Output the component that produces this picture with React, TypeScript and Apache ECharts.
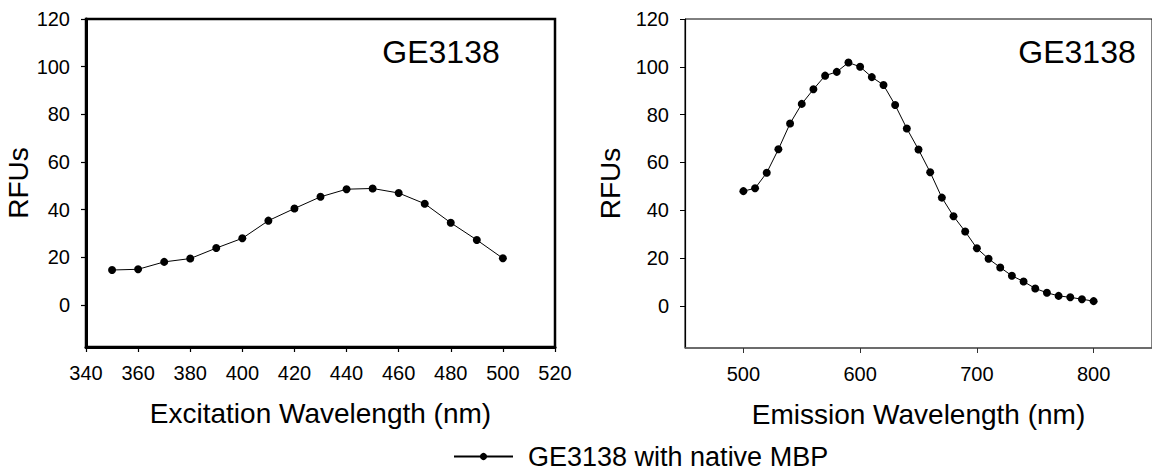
import React, { useEffect, useRef } from "react";
import * as echarts from "echarts";

const SERIES_NAME = "GE3138 with native MBP";
const PANEL_LABEL = "GE3138";

const excitationNm = [350, 360, 370, 380, 390, 400, 410, 420, 430, 440, 450, 460, 470, 480, 490, 500];
const excitationRfu = [14.7, 15.0, 18.1, 19.5, 23.9, 28.0, 35.4, 40.5, 45.4, 48.6, 48.9, 47.0, 42.5, 34.5, 27.3, 19.6];

const emissionNm = [
  500, 510, 520, 530, 540, 550, 560, 570, 580, 590, 600, 610, 620, 630, 640, 650,
  660, 670, 680, 690, 700, 710, 720, 730, 740, 750, 760, 770, 780, 790, 800,
];
const emissionRfu = [
  48.0, 49.2, 55.7, 65.5, 76.3, 84.5, 90.6, 96.3, 97.9, 101.8, 100.0, 95.7, 92.4, 84.0, 74.2, 65.4,
  55.9, 45.3, 37.5, 31.1, 24.1, 19.7, 16.1, 12.6, 10.2, 7.3, 5.5, 4.2, 3.6, 2.8, 2.0,
];

const yTicks = [0, 20, 40, 60, 80, 100, 120];
const emissionTicks = [500, 600, 700, 800];

const FONT = '"Liberation Sans", Arial, Helvetica, sans-serif';

export default function App() {
  const ref = useRef<HTMLDivElement>(null);

  useEffect(() => {
    if (!ref.current) return;
    const chart = echarts.init(ref.current, undefined, { renderer: "svg" });

    const exData = excitationNm.map((x, i) => [x, excitationRfu[i]]);
    const emData = emissionNm.map((x, i) => [x, emissionRfu[i]]);

    const labelStyle = { fontSize: 20, color: "#000", fontFamily: FONT };
    const nameStyle = { fontSize: 28, color: "#000", fontFamily: FONT };

    const option: any = {
      animation: false,
      textStyle: { fontFamily: FONT, color: "#000" },
      grid: [
        { left: 86, top: 19, width: 469, height: 328, show: true, borderColor: "#000", borderWidth: 2.5, backgroundColor: "transparent" },
        { left: 685, top: 19, width: 469, height: 329, show: true, borderColor: "#000", borderWidth: 1, backgroundColor: "transparent" },
      ],
      xAxis: [
        {
          type: "value",
          gridIndex: 0,
          min: 340,
          max: 520,
          interval: 20,
          name: "Excitation Wavelength (nm)",
          nameLocation: "middle",
          nameGap: 52,
          nameTextStyle: nameStyle,
          axisLine: { onZero: false, lineStyle: { color: "#000", width: 3 } },
          axisTick: { show: true, length: 5, lineStyle: { color: "#000", width: 1.2 } },
          axisLabel: { ...labelStyle, margin: 16 },
          splitLine: { show: false },
        },
        {
          type: "value",
          gridIndex: 1,
          min: 450,
          max: 850,
          name: "Emission Wavelength (nm)",
          nameLocation: "middle",
          nameGap: 52,
          nameTextStyle: nameStyle,
          axisLine: { onZero: false, lineStyle: { color: "#666", width: 1.5 } },
          axisTick: { show: true, length: 5, customValues: emissionTicks, lineStyle: { color: "#333", width: 1 } },
          axisLabel: { ...labelStyle, margin: 16, customValues: emissionTicks },
          splitLine: { show: false },
        },
      ],
      yAxis: [
        {
          type: "value",
          gridIndex: 0,
          min: -17.6,
          max: 120,
          name: "RFUs",
          nameLocation: "middle",
          nameGap: 50,
          nameRotate: 90,
          nameTextStyle: nameStyle,
          axisLine: { show: true, onZero: false, lineStyle: { color: "#000", width: 3 } },
          axisTick: { show: true, length: 5, customValues: yTicks, lineStyle: { color: "#000", width: 1.2 } },
          axisLabel: { ...labelStyle, margin: 16, customValues: yTicks },
          splitLine: { show: false },
        },
        {
          type: "value",
          gridIndex: 1,
          min: -17.6,
          max: 120,
          name: "RFUs",
          nameLocation: "middle",
          nameGap: 61,
          nameRotate: 90,
          nameTextStyle: nameStyle,
          axisLine: { show: true, onZero: false, lineStyle: { color: "#000", width: 1.2 } },
          axisTick: { show: true, length: 5, customValues: yTicks, lineStyle: { color: "#000", width: 1 } },
          axisLabel: { ...labelStyle, margin: 16, customValues: yTicks },
          splitLine: { show: false },
        },
      ],
      legend: {
        data: [SERIES_NAME],
        left: 453,
        top: 443,
        padding: 0,
        itemWidth: 59,
        itemHeight: 9,
        selectedMode: false,
        textStyle: { fontSize: 27, color: "#000", fontFamily: FONT, padding: [0, 0, 0, 10] },
      },
      graphic: [
        {
          type: "text",
          x: 441,
          y: 52,
          style: { text: PANEL_LABEL, fontSize: 32, fill: "#000", fontFamily: FONT, textAlign: "center", textVerticalAlign: "middle" },
        },
        {
          type: "text",
          x: 1077,
          y: 52,
          style: { text: PANEL_LABEL, fontSize: 32, fill: "#000", fontFamily: FONT, textAlign: "center", textVerticalAlign: "middle" },
        },
      ],
      series: [
        {
          name: SERIES_NAME,
          type: "line",
          xAxisIndex: 0,
          yAxisIndex: 0,
          data: exData,
          symbol: "circle",
          symbolSize: 8,
          showSymbol: true,
          lineStyle: { color: "#000", width: 1 },
          itemStyle: { color: "#000" },
        },
        {
          name: SERIES_NAME,
          type: "line",
          xAxisIndex: 1,
          yAxisIndex: 1,
          data: emData,
          symbol: "circle",
          symbolSize: 8,
          showSymbol: true,
          lineStyle: { color: "#000", width: 1 },
          itemStyle: { color: "#000" },
        },
      ],
    };

    chart.setOption(option);
    return () => chart.dispose();
  }, []);

  return (
    <div
      ref={ref}
      style={{ position: "fixed", left: 0, top: 0, width: 1152, height: 475, background: "#fff" }}
    />
  );
}
